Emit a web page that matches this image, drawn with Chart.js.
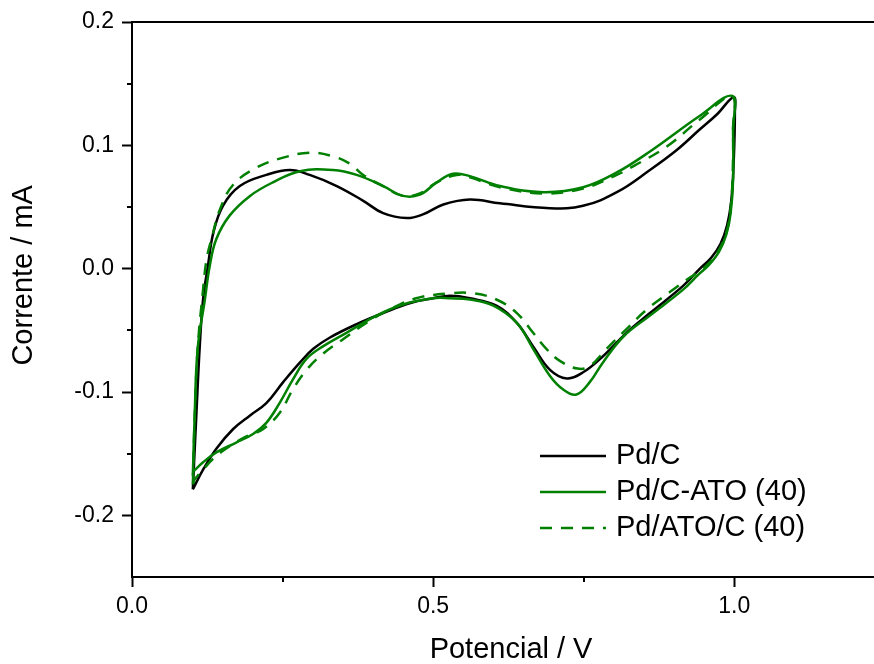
<!DOCTYPE html>
<html lang="pt">

<head>
  <meta charset="UTF-8">
  <title>Voltametria cíclica</title>
  <script src="https://cdn.jsdelivr.net/npm/chart.js@4.4.1/dist/chart.umd.min.js"></script>
  <style>
    html, body { margin: 0; padding: 0; background: #fff; overflow: hidden; }
    canvas { display: block; }
  </style>
</head>

<body>
  <canvas id="chart" width="874" height="664"></canvas>

  <script>
    // potential (V) and current (mA), anodic sweep then cathodic sweep
    const pdcPotential = [0.101, 0.107, 0.1125, 0.118, 0.126, 0.135, 0.151, 0.179, 0.223, 0.262, 0.295, 0.340, 0.384, 0.417, 0.456, 0.483, 0.517, 0.561, 0.611, 0.694, 0.749, 0.805, 0.860, 0.904, 0.943, 0.971, 0.999,
      1.001, 0.999, 0.995, 0.988, 0.977, 0.962, 0.943, 0.915, 0.860, 0.821, 0.782, 0.749, 0.722, 0.694, 0.666, 0.639, 0.605, 0.561, 0.528, 0.500, 0.461, 0.417, 0.373, 0.328, 0.301, 0.279, 0.251, 0.223, 0.196, 0.168, 0.140, 0.118, 0.101];
    const pdcCurrent = [-0.179, -0.117, -0.063, -0.025, 0.002, 0.029, 0.051, 0.067, 0.076, 0.080, 0.076, 0.067, 0.055, 0.045, 0.041, 0.044, 0.052, 0.056, 0.053, 0.049, 0.051, 0.062, 0.080, 0.096, 0.113, 0.125, 0.139,
      0.127, 0.086, 0.055, 0.035, 0.020, 0.009, 0.000, -0.014, -0.036, -0.052, -0.071, -0.084, -0.089, -0.082, -0.063, -0.044, -0.030, -0.024, -0.022, -0.024, -0.028, -0.036, -0.045, -0.056, -0.065, -0.076, -0.092, -0.109, -0.119, -0.130, -0.146, -0.163, -0.179];

    const pdcAtoPotential = [0.101, 0.104, 0.109, 0.121, 0.129, 0.140, 0.162, 0.196, 0.234, 0.279, 0.334, 0.373, 0.417, 0.450, 0.478, 0.506, 0.533, 0.561, 0.611, 0.683, 0.749, 0.805, 0.860, 0.943, 0.997,
      0.998, 0.998, 0.994, 0.987, 0.975, 0.958, 0.940, 0.915, 0.860, 0.816, 0.782, 0.760, 0.738, 0.716, 0.694, 0.666, 0.639, 0.600, 0.561, 0.528, 0.500, 0.450, 0.406, 0.356, 0.317, 0.290, 0.267, 0.245, 0.223, 0.201, 0.173, 0.140, 0.118, 0.101];
    const pdcAtoCurrent = [-0.168, -0.120, -0.065, -0.025, 0.002, 0.024, 0.043, 0.059, 0.070, 0.079, 0.080, 0.076, 0.067, 0.059, 0.060, 0.070, 0.077, 0.075, 0.067, 0.062, 0.066, 0.078, 0.095, 0.124, 0.140,
      0.113, 0.072, 0.045, 0.028, 0.014, 0.003, -0.005, -0.017, -0.038, -0.055, -0.076, -0.092, -0.102, -0.098, -0.087, -0.065, -0.044, -0.030, -0.025, -0.024, -0.024, -0.029, -0.038, -0.052, -0.063, -0.073, -0.090, -0.109, -0.125, -0.134, -0.141, -0.149, -0.157, -0.165];

    const pdAtoCPotential = [0.101, 0.104, 0.109, 0.118, 0.124, 0.132, 0.146, 0.168, 0.207, 0.251, 0.295, 0.334, 0.362, 0.384, 0.417, 0.450, 0.478, 0.506, 0.539, 0.561, 0.611, 0.683, 0.749, 0.805, 0.832, 0.888, 0.943, 0.996,
      0.998, 0.997, 0.993, 0.986, 0.973, 0.957, 0.940, 0.927, 0.893, 0.855, 0.821, 0.788, 0.760, 0.740, 0.711, 0.688, 0.666, 0.639, 0.605, 0.567, 0.528, 0.472, 0.428, 0.389, 0.351, 0.317, 0.290, 0.267, 0.245, 0.218, 0.190, 0.162, 0.135, 0.118, 0.104, 0.101];
    const pdAtoCCurrent = [-0.175, -0.122, -0.065, -0.017, 0.008, 0.024, 0.048, 0.068, 0.082, 0.090, 0.094, 0.091, 0.085, 0.076, 0.067, 0.059, 0.061, 0.070, 0.076, 0.074, 0.066, 0.061, 0.065, 0.076, 0.083, 0.099, 0.121, 0.1395,
      0.113, 0.072, 0.045, 0.028, 0.014, 0.004, -0.003, -0.007, -0.019, -0.033, -0.049, -0.065, -0.079, -0.081, -0.075, -0.065, -0.052, -0.036, -0.025, -0.020, -0.020, -0.024, -0.033, -0.044, -0.057, -0.069, -0.082, -0.098, -0.117, -0.130, -0.136, -0.144, -0.154, -0.163, -0.171, -0.175];

    const seriesLabels = ['Pd/C', 'Pd/C-ATO (40)', 'Pd/ATO/C (40)'];

    const xTicks = [0, 0.5, 1.0];
    const xMinorTicks = [0.25, 0.75];
    const yTicks = [-0.2, -0.1, 0, 0.1, 0.2];
    const yMinorTicks = [-0.15, -0.05, 0.05, 0.15];

    const FONT = '"Liberation Sans", Arial, sans-serif';
    const GREEN = '#008000';

    function toPoints(potential, current) {
      return potential.map((v, k) => ({ x: v, y: current[k] }));
    }

    // short ticks between the labelled ones
    const minorTicks = {
      id: 'minorTicks',
      afterDraw(chart) {
        const { ctx, chartArea, scales: { x, y } } = chart;
        ctx.save();
        ctx.strokeStyle = '#000';
        ctx.lineWidth = 2;
        ctx.beginPath();
        xMinorTicks.forEach(v => {
          const px = Math.round(x.getPixelForValue(v));
          ctx.moveTo(px, chartArea.bottom);
          ctx.lineTo(px, chartArea.bottom + 5);
        });
        yMinorTicks.forEach(v => {
          const py = Math.round(y.getPixelForValue(v));
          ctx.moveTo(chartArea.left, py);
          ctx.lineTo(chartArea.left - 5, py);
        });
        ctx.stroke();
        ctx.restore();
      }
    };

    // legend drawn inside the plot, lower right
    const insideLegend = {
      id: 'insideLegend',
      afterDatasetsDraw(chart, args, opts) {
        const { ctx } = chart;
        ctx.save();
        ctx.font = '29px ' + FONT;
        ctx.textBaseline = 'middle';
        ctx.fillStyle = '#000';
        chart.data.datasets.forEach((ds, i) => {
          const y = opts.y + i * opts.rowHeight;
          ctx.strokeStyle = ds.borderColor;
          ctx.lineWidth = ds.borderWidth;
          ctx.setLineDash(ds.borderDash || []);
          ctx.beginPath();
          ctx.moveTo(opts.x, y);
          ctx.lineTo(opts.x + opts.lineLength, y);
          ctx.stroke();
          ctx.setLineDash([]);
          ctx.fillText(ds.label, opts.x + opts.lineLength + opts.gap, y);
        });
        ctx.restore();
      }
    };

    const context = document.getElementById('chart').getContext('2d');
    const chart = new Chart(context, {
      type: 'scatter',
      data: {
        datasets: [
          {
            label: seriesLabels[0],
            data: toPoints(pdcPotential, pdcCurrent),
            borderColor: '#000',
            borderWidth: 2.5,
            order: 3
          },
          {
            label: seriesLabels[1],
            data: toPoints(pdcAtoPotential, pdcAtoCurrent),
            borderColor: GREEN,
            borderWidth: 2.5,
            order: 2
          },
          {
            label: seriesLabels[2],
            data: toPoints(pdAtoCPotential, pdAtoCCurrent),
            borderColor: GREEN,
            borderWidth: 2.5,
            borderDash: [12, 9],
            order: 1
          }
        ]
      },
      options: {
        responsive: false,
        animation: false,
        devicePixelRatio: 1,
        layout: { padding: { top: 22, left: 0, right: 0, bottom: 0 } },
        elements: {
          point: { radius: 0, hoverRadius: 0 },
          line: { tension: 0.4, fill: false }
        },
        datasets: { scatter: { showLine: true } },
        scales: {
          x: {
            type: 'linear',
            position: 'bottom',
            min: 0,
            max: 1.232,
            afterBuildTicks: s => { s.ticks = xTicks.map(v => ({ value: v })); },
            afterFit: s => { s.height = 87; },
            grid: { drawOnChartArea: false, tickLength: 10, tickWidth: 2, tickColor: '#000' },
            border: { display: true, color: '#000', width: 2 },
            ticks: {
              color: '#000',
              font: { family: FONT, size: 23 },
              padding: 6,
              maxRotation: 0,
              callback: v => v.toFixed(1)
            },
            title: {
              display: true,
              text: '  Potencial / V',
              color: '#000',
              font: { family: FONT, size: 29, lineHeight: 1 },
              padding: { top: 0, bottom: 0 }
            }
          },
          xTop: {
            type: 'linear',
            position: 'top',
            min: 0,
            max: 1.232,
            afterFit: s => { s.height = 0; },
            grid: { display: false },
            border: { display: true, color: '#000', width: 2 },
            ticks: { display: false }
          },
          y: {
            type: 'linear',
            position: 'left',
            min: -0.25,
            max: 0.2,
            afterBuildTicks: s => { s.ticks = yTicks.map(v => ({ value: v })); },
            afterFit: s => { s.width = 132; },
            grid: { drawOnChartArea: false, tickLength: 10, tickWidth: 2, tickColor: '#000' },
            border: { display: true, color: '#000', width: 2 },
            ticks: {
              color: '#000',
              font: { family: FONT, size: 23 },
              padding: 8,
              callback: v => v.toFixed(1)
            },
            title: {
              display: true,
              text: '      Corrente / mA',
              color: '#000',
              font: { family: FONT, size: 29, lineHeight: 1 },
              padding: { top: 9, bottom: 0 }
            }
          }
        },
        plugins: {
          legend: { display: false },
          tooltip: { enabled: false },
          insideLegend: { x: 540, y: 456, lineLength: 66, gap: 10, rowHeight: 36 }
        }
      },
      plugins: [minorTicks, insideLegend]
    });
  </script>
</body>

</html>
